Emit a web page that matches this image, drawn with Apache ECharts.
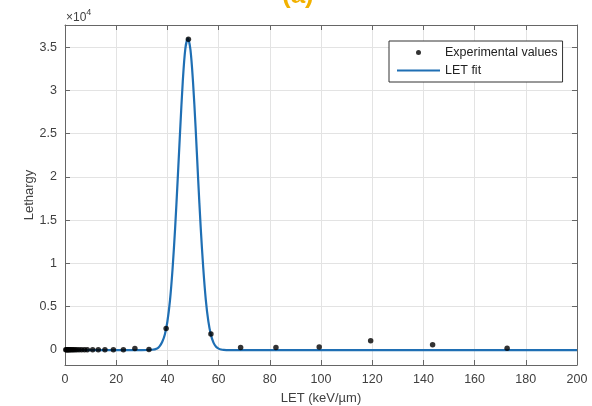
<!DOCTYPE html>
<html>
<head>
<meta charset="utf-8">
<script src="https://cdn.jsdelivr.net/npm/echarts@6.0.0/dist/echarts.min.js"></script>
<style>
  html, body { margin: 0; padding: 0; background: #fff; }
  #chart { width: 592px; height: 406px; }
</style>
</head>
<body>
<div id="chart"></div>
<script>
// measured points (LET keV/um, lethargy)
const expLet = [0.3, 0.6, 0.9, 1.2, 1.5, 1.9, 2.3, 2.8, 3.3, 3.9, 4.6, 5.5, 6.5, 7.6, 8.7, 10.8, 13.0, 15.6, 18.9, 22.8, 27.3, 32.8, 39.5, 48.2, 57.0, 68.6, 82.4, 99.3, 119.4, 143.6, 172.7];
const expVal = [20, 20, 20, 20, 20, 20, 20, 20, 20, 20, 30, 30, 30, 30, 30, 30, 30, 30, 40, 40, 180, 50, 2500, 35900, 1850, 300, 280, 350, 1070, 610, 200];

// fitted curve
const fitLet = [0, 10, 20, 30, 34, 36, 37, 38, 39, 40, 41, 42, 43, 44, 45, 46, 47, 48, 49, 50, 51, 52, 53, 54, 55, 56, 57, 58, 59, 60, 61, 62, 64, 70, 100, 150, 200];
const fitVal = [0, 0, 0, 0, 30, 180, 450, 950, 1800, 3300, 5700, 9300, 14000, 19600, 25500, 31000, 34800, 36000, 34700, 31000, 25800, 19800, 14200, 9500, 5800, 3300, 1750, 850, 380, 160, 60, 20, 0, 0, 0, 0, 0];

const yTicks = [0, 5000, 10000, 15000, 20000, 25000, 30000, 35000];

const chart = echarts.init(document.getElementById('chart'), null, { renderer: 'canvas' });

const txt = '#404040';
const font = 'Liberation Sans, Arial, sans-serif';
const frame = { show: true, onZero: false, lineStyle: { color: '#666', width: 1 } };
const tick = { inside: true, length: 5, lineStyle: { color: '#666' } };

const option = {
  backgroundColor: '#fff',
  animation: false,
  textStyle: { fontFamily: font },
  grid: { left: 65, right: 15, top: 25, bottom: 41, containLabel: false, outerBoundsMode: 'none' },
  graphic: [
    {
      type: 'text', left: 282, top: -17,
      style: { text: '(a)', font: 'bold 26px ' + font, fill: '#f2b100' }
    },
    {
      type: 'text', left: 66, top: 8,
      style: {
        text: '{a|×10}{b|4}', fill: txt,
        rich: {
          a: { fontSize: 12, fontFamily: font, fill: txt, padding: [4, 0, 0, 0] },
          b: { fontSize: 9, fontFamily: font, fill: txt, verticalAlign: 'top' }
        }
      }
    }
  ],
  legend: {
    orient: 'vertical',
    left: 389, top: 41,
    backgroundColor: '#fff',
    borderColor: '#333', borderWidth: 1,
    padding: [5, 5, 5, 8],
    itemWidth: 43, itemHeight: 5, itemGap: 5,
    textStyle: { color: '#222', fontSize: 12.5, fontFamily: font },
    data: [
      { name: 'Experimental values', icon: 'circle', itemStyle: { color: '#000' } },
      { name: 'LET fit', icon: 'path://M0,0L43,0L43,2.2L0,2.2Z', itemStyle: { color: '#1f6fb4' } }
    ]
  },
  xAxis: [
    {
      type: 'value', min: 0, max: 200, interval: 20,
      name: 'LET (keV/µm)', nameLocation: 'middle', nameGap: 27,
      nameTextStyle: { color: txt, fontSize: 13 },
      axisLine: frame,
      axisTick: tick,
      axisLabel: { color: txt, fontSize: 12.5, margin: 8 },
      splitLine: { show: true, lineStyle: { color: '#e3e3e3' } }
    },
    {
      type: 'value', min: 0, max: 200, interval: 20, position: 'top',
      axisLine: frame,
      axisTick: tick,
      axisLabel: { show: false }, splitLine: { show: false }
    }
  ],
  yAxis: [
    {
      type: 'value', min: -1730, max: 37550,
      name: 'Lethargy', nameLocation: 'middle', nameGap: 29, nameMoveOverlap: false,
      nameTextStyle: { color: txt, fontSize: 13 },
      axisLine: frame,
      axisTick: Object.assign({ customValues: yTicks }, tick),
      axisLabel: { color: txt, fontSize: 12.5, margin: 8, customValues: yTicks, formatter: v => String(v / 10000) },
      splitLine: { show: true, lineStyle: { color: '#e3e3e3' } }
    },
    {
      type: 'value', min: -1730, max: 37550, position: 'right',
      axisLine: frame,
      axisTick: Object.assign({ customValues: yTicks }, tick),
      axisLabel: { show: false }, splitLine: { show: false }
    }
  ],
  series: [
    {
      name: 'Experimental values',
      type: 'scatter',
      symbol: 'circle', symbolSize: 5.5,
      itemStyle: { color: '#000' },
      z: 3,
      data: expLet.map((x, i) => [x, expVal[i]])
    },
    {
      name: 'LET fit',
      type: 'line',
      smooth: 0.3,
      symbol: 'none',
      lineStyle: { color: '#1f6fb4', width: 2.2 },
      itemStyle: { color: '#1f6fb4' },
      z: 2,
      data: fitLet.map((x, i) => [x, fitVal[i]])
    }
  ]
};

chart.setOption(option);
</script>
</body>
</html>
